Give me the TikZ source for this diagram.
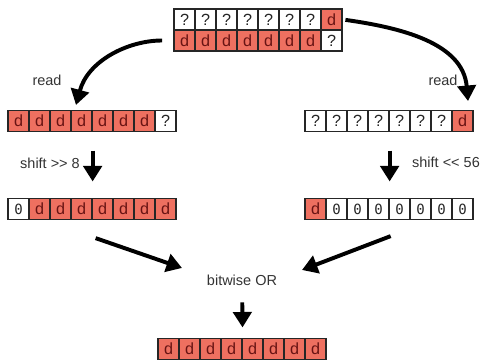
\documentclass[tikz,border=0pt]{standalone}
\usepackage{fontspec}
\setmainfont{Liberation Sans}
\newfontfamily\zerofont{DejaVu Sans Mono}
\usetikzlibrary{arrows.meta, calc}
\definecolor{bytefill}{RGB}{238, 112, 96}
\definecolor{bytetext}{RGB}{105, 20, 20}

\begin{document}
\begin{tikzpicture}[
    x=0.025cm, y=0.025cm,
    cell/.style={
        rectangle, draw=black!85, line width=0.9pt,
        minimum width=0.525cm, minimum height=0.525cm, inner sep=0pt,
        font=\fontsize{11.5}{11.5}\selectfont
    },
    full/.style={cell, fill=bytefill, text=bytetext},
    unknown/.style={cell, fill=white, text=black!85},
    zero/.style={cell, fill=white, text=black!85, font=\zerofont\fontsize{10}{10}\selectfont},
    note/.style={font=\fontsize{10.3}{12}\selectfont, text=black!80},
    arrow/.style={
        -{Triangle[width=13pt, length=11pt]}, line width=2.8pt, draw=black
    }
]
\useasboundingbox (0,0) rectangle (480,360);

% Source word (two halves)
\foreach \s/\t [count=\i] in {unknown/?,unknown/?,unknown/?,unknown/?,unknown/?,unknown/?,unknown/?,full/d}
    \node[\s] (topa-\i) at ({174+21*\i-10.5}, 340.5) {\t};
\foreach \s/\t [count=\i] in {full/d,full/d,full/d,full/d,full/d,full/d,full/d,unknown/?}
    \node[\s] (topb-\i) at ({174+21*\i-10.5}, 319.5) {\t};

% Loaded words
\foreach \s/\t [count=\i] in {full/d,full/d,full/d,full/d,full/d,full/d,full/d,unknown/?}
    \node[\s] (lefta-\i) at ({8+21*\i-10.5}, 239) {\t};
\foreach \s/\t [count=\i] in {unknown/?,unknown/?,unknown/?,unknown/?,unknown/?,unknown/?,unknown/?,full/d}
    \node[\s] (righta-\i) at ({305+21*\i-10.5}, 239) {\t};

% Shifted words
\foreach \s/\t [count=\i] in {zero/0,full/d,full/d,full/d,full/d,full/d,full/d,full/d}
    \node[\s] (leftb-\i) at ({8+21*\i-10.5}, 151) {\t};
\foreach \s/\t [count=\i] in {full/d,zero/0,zero/0,zero/0,zero/0,zero/0,zero/0,zero/0}
    \node[\s] (rightb-\i) at ({305+21*\i-10.5}, 151) {\t};

% Result
\foreach \s/\t [count=\i] in {full/d,full/d,full/d,full/d,full/d,full/d,full/d,full/d}
    \node[\s] (res-\i) at ({158+21*\i-10.5}, 11) {\t};

% Labels
\node[note] (readl) at (47, 280) {read};
\node[note] (readr) at (443, 280) {read};
\node[note] (shiftl) at (50, 197) {shift >{}> 8};
\node[note] (shiftr) at (446, 198) {shift <{}< 56};
\node[note] (or) at (242, 80) {bitwise OR};

% Arrows
\coordinate (loadl) at (76, 255);
\coordinate (loadr) at (468, 259);
\draw[arrow, shorten <=8pt] (topb-1.west) to[out=180, in=75] (loadl);
\draw[arrow, shorten <=2pt] (topa-8.east) to[out=-8, in=95] (loadr);

\draw[arrow, shorten <=0.46cm, shorten >=0.41cm] (lefta-4.south east) -- (leftb-4.north east);
\draw[arrow, shorten <=0.46cm, shorten >=0.41cm] (righta-4.south east) -- (rightb-4.north east);

\draw[arrow] ($(leftb-4.south east)+(3,-18)$) -- ($(or.west)+(-20,12)$);
\draw[arrow] ($(rightb-4.south east)+(1,-16)$) -- ($(or.east)+(20,10)$);

\draw[arrow, shorten <=0.3cm, shorten >=0.26cm] (or) -- (res-4.north east);

\end{tikzpicture}
\end{document}
